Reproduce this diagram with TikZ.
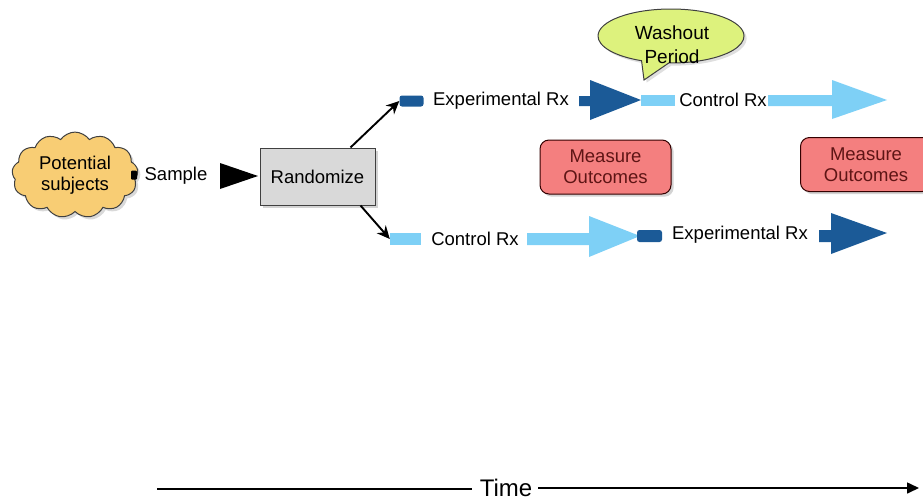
\documentclass[tikz,border=0pt]{standalone}
\usepackage{fontspec}
\setmainfont{Liberation Sans}
\usetikzlibrary{shapes.symbols,shapes.callouts,shadows,arrows.meta}
\definecolor{darkrx}{HTML}{1B5A97}
\definecolor{lightrx}{HTML}{7ED0F6}
\definecolor{cloudfill}{HTML}{F8CD74}
\definecolor{washgreen}{HTML}{DDF27D}
\definecolor{salmon}{HTML}{F47F7F}
\definecolor{measuretext}{HTML}{5E1515}
\tikzset{
  lbl/.style={font=\fontsize{18.5}{21}\selectfont, inner sep=0pt},
  measurebox/.style={draw=black!80!red, line width=1pt, fill=salmon, rounded corners=9pt,
     minimum width=131pt, minimum height=54pt, align=center, text=measuretext,
     font=\fontsize{18.5}{21}\selectfont, drop shadow={opacity=0.35}},
  tabdark/.style={fill=darkrx, rounded corners=2.5pt, inner sep=0pt},
  tablight/.style={fill=lightrx, inner sep=0pt},
  conn/.style={line width=1.9pt, -{Stealth[length=13pt,width=12pt]}},
}
\begin{document}
\begin{tikzpicture}[x=1pt,y=-1pt]
\useasboundingbox (0,0) rectangle (923,501);
% cloud
\node[cloud, cloud puffs=13, cloud puff arc=110, aspect=1.5, draw=black!75, line width=1pt,
      fill=cloudfill, minimum width=126pt, minimum height=82pt, align=center,
      font=\fontsize{18.5}{21}\selectfont, drop shadow={opacity=0.3}] (cloud) at (75,175) {Potential\\subjects};
\node[fill=black, minimum width=6pt, minimum height=9pt, inner sep=0pt, rounded corners=1pt] (ctab) at (134,175) {};
\node[lbl] (sample) at (176,176) {Sample};
\fill (220,163) -- (258,176) -- (220,189) -- cycle;
% randomize
\node[draw=black!75, line width=1pt, fill=black!15, minimum width=115pt, minimum height=57pt,
      font=\fontsize{18.5}{21}\selectfont, drop shadow={opacity=0.35}] (rand) at (317.5,176.5) {Randomize};
% top row
\node[tabdark, minimum width=24pt, minimum height=11pt] (e1tab) at (411.5,101) {};
\node[lbl] (e1) at (501,101) {Experimental Rx};
\fill[darkrx] (579,96) -- (590,96) -- (590,80) -- (641,100) -- (590,120) -- (590,106) -- (579,106) -- cycle;
\node[tablight, minimum width=34pt, minimum height=11pt] (c1tab) at (658,100.5) {};
\node[lbl] (c1) at (723,100) {Control Rx};
\fill[lightrx] (768,95) -- (832,95) -- (832,80) -- (887,100) -- (832,119) -- (832,106) -- (768,106) -- cycle;
% washout callout
\node[ellipse callout, draw=black!75, line width=1pt, fill=washgreen, minimum width=146pt, minimum height=54pt,
      callout absolute pointer={(644,80)}, callout pointer arc=22, drop shadow={opacity=0.25}] (wash) at (671,36) {};
\node[align=center, font=\fontsize{19}{24}\selectfont, inner sep=0pt] (washtxt) at (672,45) {Washout\\Period};
% bottom row
\node[tablight, minimum width=31pt, minimum height=12pt] (c2tab) at (405.5,239) {};
\node[lbl] (c2) at (475,239) {Control Rx};
\fill[lightrx] (527,233) -- (589,233) -- (589,216) -- (640,236) -- (589,257) -- (589,245) -- (527,245) -- cycle;
\node[tabdark, minimum width=25pt, minimum height=12pt] (e2tab) at (649.5,236) {};
\node[lbl] (e2) at (740,235) {Experimental Rx};
\fill[darkrx] (819,230) -- (831,230) -- (831,213) -- (887,233) -- (831,254) -- (831,242) -- (819,242) -- cycle;
% measure boxes
\node[measurebox] (m1) at (605.5,167) {Measure\\Outcomes};
\node[measurebox, anchor=west] (m2) at (800,164.5) {Measure\\Outcomes};
% connectors
\draw[conn] ([xshift=-25pt]rand.north east) -- (e1tab.west);
\draw[conn] ([xshift=-15pt]rand.south east) -- (c2tab.west);
% time
\node[font=\fontsize{24}{27}\selectfont, inner sep=0pt] (time) at (506,488) {Time};
\coordinate (tstart) at (157,489);
\coordinate (tend) at (919,488);
\draw[line width=1.6pt] (tstart) -- ([xshift=-8pt]time.west |- tstart);
\draw[line width=1.6pt, -{Triangle[length=12pt,width=11pt]}] ([xshift=6pt]time.east |- tend) -- (tend);
\end{tikzpicture}
\end{document}
